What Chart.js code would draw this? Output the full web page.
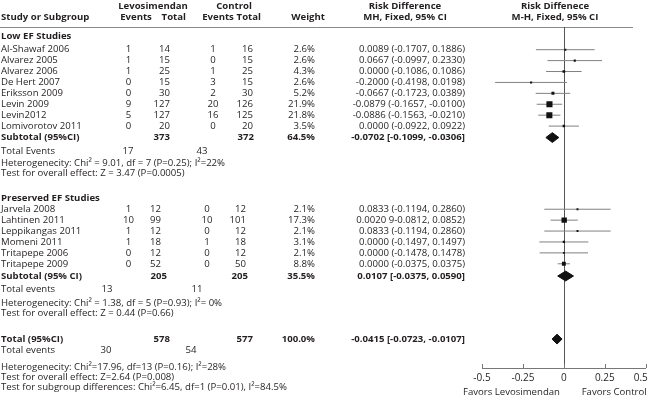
<!DOCTYPE html>
<html>
<head>
<meta charset="utf-8">
<script src="https://cdn.jsdelivr.net/npm/chart.js@4.4.1/dist/chart.umd.min.js"></script>
<style>
  html, body { margin: 0; padding: 0; background: #fff; }
  #wrap { width: 650px; height: 404px; position: relative; }
</style>
</head>
<body>
<div id="wrap"><canvas id="forest"></canvas></div>
<script>
// ---- data: Low EF studies
const lowStudies = ['Al-Shawaf 2006', 'Alvarez 2005', 'Alvarez 2006', 'De Hert 2007', 'Eriksson 2009', 'Levin 2009', 'Levin2012', 'Lomivorotov 2011'];
const lowLevEvents = [1, 1, 1, 0, 0, 9, 5, 0];
const lowLevTotal = [14, 15, 25, 15, 30, 127, 127, 20];
const lowCtrlEvents = [1, 0, 1, 3, 2, 20, 16, 0];
const lowCtrlTotal = [16, 15, 25, 15, 30, 126, 125, 20];
const lowWeight = [2.6, 2.6, 4.3, 2.6, 5.2, 21.9, 21.8, 3.5];
const lowRD = [0.0089, 0.0667, 0.0000, -0.2000, -0.0667, -0.0879, -0.0886, 0.0000];
const lowLo = [-0.1707, -0.0997, -0.1086, -0.4198, -0.1723, -0.1657, -0.1563, -0.0922];
const lowHi = [0.1886, 0.2330, 0.1086, 0.0198, 0.0389, -0.0100, -0.0210, 0.0922];
const lowCIText = ['0.0089 (-0.1707, 0.1886)', '0.0667 (-0.0997, 0.2330)', '0.0000 (-0.1086, 0.1086)', '-0.2000 (-0.4198, 0.0198)',
  '-0.0667 (-0.1723, 0.0389)', '-0.0879 (-0.1657, -0.0100)', '-0.0886 (-0.1563, -0.0210)', '0.0000 (-0.0922, 0.0922)'];

// ---- data: Preserved EF studies
const preStudies = ['Jarvela 2008', 'Lahtinen 2011', 'Leppikangas 2011', 'Momeni 2011', 'Tritapepe 2006', 'Tritapepe 2009'];
const preLevEvents = [1, 10, 1, 1, 0, 0];
const preLevTotal = [12, 99, 12, 18, 12, 52];
const preCtrlEvents = [0, 10, 0, 1, 0, 0];
const preCtrlTotal = [12, 101, 12, 18, 12, 50];
const preWeight = [2.1, 17.3, 2.1, 3.1, 2.1, 8.8];
const preRD = [0.0833, 0.0020, 0.0833, 0.0000, 0.0000, 0.0000];
const preLo = [-0.1194, -0.0812, -0.1194, -0.1497, -0.1478, -0.0375];
const preHi = [0.2860, 0.0852, 0.2860, 0.1497, 0.1478, 0.0375];
const preCIText = ['0.0833 (-0.1194, 0.2860)', '0.0020 9-0.0812, 0.0852)', '0.0833 (-0.1194, 0.2860)',
  '0.0000 (-0.1497, 0.1497)', '0.0000 (-0.1478, 0.1478)', '0.0000 (-0.0375, 0.0375)'];

// ---- pooled results: [low EF, preserved EF, total]
const pooledLabel = ['Subtotal (95%CI)', 'Subtotal (95% CI)', 'Total (95%CI)'];
const pooledLevTotal = [373, 205, 578];
const pooledCtrlTotal = [372, 205, 577];
const pooledWeight = ['64.5%', '35.5%', '100.0%'];
const pooledRD = [-0.0702, 0.0107, -0.0415];
const pooledLo = [-0.1099, -0.0375, -0.0723];
const pooledHi = [-0.0306, 0.0590, -0.0107];
const pooledLevEvents = [17, 13, 30];
const pooledCtrlEvents = [43, 11, 54];
const eventsLabel = ['Total Events', 'Total events', 'Total events'];
const heterogeneity = [
  'Heterogenecity: Chi\u00b2 = 9.01, df = 7 (P=0.25); I\u00b2=22%',
  'Heterogenecity: Chi\u00b2 = 1.38, df = 5 (P=0.93); I\u00b2= 0%',
  'Heterogenecity: Chi\u00b2=17.96, df=13 (P=0.16); I\u00b2=28%'
];
const overallTest = [
  'Test for overall effect: Z = 3.47 (P=0.0005)',
  'Test for overall effect: Z = 0.44 (P=0.66)',
  'Test for overall effect: Z=2.64 (P=0.008)'
];
const subgroupTest = 'Test for subgroup differences: Chi\u00b2=6.45, df=1 (P=0.01), I\u00b2=84.5%';

const xTicks = [-0.5, -0.25, 0, 0.25, 0.5];

// ---- layout (row positions in study-row units, 0 = header rule)
const lowStart = 2.08, preStart = 16.7;
const lowY = lowStudies.map((s, i) => lowStart + i);
const preY = preStudies.map((s, i) => preStart + i);
const pooledY = [lowStart + lowStudies.length + 0.05, preStart + preStudies.length + 0.12, 28.6];

const FONT = '"Open Sans", sans-serif';
const SIZE = 9.6;
const INK = '#231f20';

// text rows: {y, bold, cells: [[text, x, align]]}
const textRows = [];
const hdr1 = -1.93, hdr2 = -0.87;
textRows.push({ y: hdr1, bold: true, cells: [['Levosimendan', 153, 'center'], ['Control', 234, 'center'], ['Risk Difference', 405, 'center'], ['Risk Diffenece', 555, 'center']] });
textRows.push({ y: hdr2, bold: true, cells: [['Study or Subgroup', 1, 'left'], ['Events', 136, 'center'], ['Total', 186, 'right'], ['Events', 218, 'center'], ['Total', 261, 'right'], ['Weight', 325, 'right'], ['MH, Fixed, 95% CI', 405, 'center'], ['M-H, Fixed, 95% CI', 555, 'center']] });

function studyRows(names, le, lt, ce, ct, w, ci, ys, c) {
  names.forEach((n, i) => {
    textRows.push({ y: ys[i], bold: false, cells: [
      [n, 1, 'left'], [String(le[i]), c[0], 'center'], [String(lt[i]), c[1], 'right'],
      [String(ce[i]), c[2], 'center'], [String(ct[i]), c[3], 'right'],
      [w[i].toFixed(1) + '%', 315, 'right'], [ci[i], 465, 'right']] });
  });
}
function pooledRows(k, c, ev) {
  const y = pooledY[k];
  const ci = pooledRD[k].toFixed(4) + ' [' + pooledLo[k].toFixed(4) + ', ' + pooledHi[k].toFixed(4) + ']';
  textRows.push({ y: y, bold: true, cells: [[pooledLabel[k], 1, 'left'], [String(pooledLevTotal[k]), c[0], 'right'],
    [String(pooledCtrlTotal[k]), c[1], 'right'], [pooledWeight[k], 315, 'right'], [ci, 465, 'right']] });
  textRows.push({ y: ev[0], bold: false, cells: [[eventsLabel[k], 1, 'left'], [String(pooledLevEvents[k]), ev[1], 'center'], [String(pooledCtrlEvents[k]), ev[2], 'center']] });
  textRows.push({ y: ev[3], bold: false, cells: [[heterogeneity[k], 1, 'left']] });
  textRows.push({ y: ev[4], bold: false, cells: [[overallTest[k], 1, 'left']] });
}

textRows.push({ y: 0.87, bold: true, cells: [['Low EF Studies', 1, 'left']] });
studyRows(lowStudies, lowLevEvents, lowLevTotal, lowCtrlEvents, lowCtrlTotal, lowWeight, lowCIText, lowY, [128.5, 170, 213, 253]);
pooledRows(0, [170, 254], [11.35, 128, 202, 12.45, 13.37]);

textRows.push({ y: 15.66, bold: true, cells: [['Preserved EF Studies', 1, 'left']] });
studyRows(preStudies, preLevEvents, preLevTotal, preCtrlEvents, preCtrlTotal, preWeight, preCIText, preY, [128.5, 161, 207, 246]);
pooledRows(1, [167, 248], [24.06, 107, 197, 25.3, 26.27]);

pooledRows(2, [170, 253], [29.63, 106, 191, 31.16, 32.08]);
textRows.push({ y: 33.06, bold: false, cells: [[subgroupTest, 1, 'left']] });

// ---- datasets built from the arrays
const allRD = lowRD.concat(preRD);
const allLo = lowLo.concat(preLo);
const allHi = lowHi.concat(preHi);
const allW = lowWeight.concat(preWeight);
const allY = lowY.concat(preY);

const ciSegments = [];
allY.forEach((y, i) => {
  ciSegments.push({ x: allLo[i], y: y }, { x: allHi[i], y: y }, { x: null, y: null });
});

const diamondH = 0.45;
const diamonds = pooledRD.map((rd, k) => ({
  type: 'line',
  data: [{ x: pooledLo[k], y: pooledY[k] }, { x: rd, y: pooledY[k] - diamondH }, { x: pooledHi[k], y: pooledY[k] },
    { x: rd, y: pooledY[k] + diamondH }, { x: pooledLo[k], y: pooledY[k] }],
  borderColor: '#111', backgroundColor: '#111', borderWidth: 1, pointRadius: 0, fill: 'shape', order: 0
}));

const forestText = {
  id: 'forestText',
  beforeDatasetsDraw(chart) {
    const { ctx, chartArea, scales } = chart;
    const x0 = scales.x.getPixelForValue(0);
    ctx.save();
    ctx.strokeStyle = '#8a8a8a';
    ctx.lineWidth = 1;
    ctx.beginPath();
    ctx.moveTo(0, chartArea.top + 0.5);
    ctx.lineTo(633, chartArea.top + 0.5);
    ctx.stroke();
    ctx.strokeStyle = '#555';
    ctx.beginPath();
    ctx.moveTo(Math.round(x0) + 0.5, chartArea.top);
    ctx.lineTo(Math.round(x0) + 0.5, chartArea.bottom);
    ctx.stroke();
    // upward tick marks on the axis
    ctx.strokeStyle = '#777';
    xTicks.forEach(t => {
      const px = Math.round(scales.x.getPixelForValue(t)) + 0.5;
      ctx.beginPath();
      ctx.moveTo(px, chartArea.bottom);
      ctx.lineTo(px, chartArea.bottom - 4);
      ctx.stroke();
    });
    ctx.restore();
  },
  afterDraw(chart) {
    const { ctx, scales } = chart;
    ctx.save();
    ctx.fillStyle = INK;
    ctx.textBaseline = 'middle';
    textRows.forEach(r => {
      ctx.font = (r.bold ? '700 ' : '400 ') + SIZE + 'px ' + FONT;
      const py = scales.y.getPixelForValue(r.y);
      r.cells.forEach(c => {
        ctx.textAlign = c[2];
        ctx.fillText(c[0], c[1], py);
      });
    });
    ctx.font = '400 ' + SIZE + 'px ' + FONT;
    const fy = scales.y.getPixelForValue(33.46);
    ctx.textAlign = 'center';
    ctx.fillText('Favors Levosimendan', scales.x.getPixelForValue(-0.32), fy);
    ctx.textAlign = 'right';
    ctx.fillText('Favors Control', scales.x.getPixelForValue(0.5) + 1, fy);
    ctx.restore();
  }
};

new Chart(document.getElementById('forest'), {
  type: 'scatter',
  data: {
    datasets: [
      {
        data: allRD.map((rd, i) => ({ x: rd, y: allY[i] })),
        pointStyle: 'rect',
        pointRadius: allW.map(w => 4.3 * Math.sqrt(w / 21.9)),
        backgroundColor: '#111', borderWidth: 0, order: 0
      },
      {
        type: 'line', data: ciSegments, borderColor: '#808080', borderWidth: 1,
        pointRadius: 0, spanGaps: false, fill: false, order: 2
      }
    ].concat(diamonds)
  },
  options: {
    responsive: true,
    maintainAspectRatio: false,
    animation: false,
    events: [],
    layout: { padding: { left: 482, right: 3, top: 27, bottom: 16 } },
    plugins: { legend: { display: false }, tooltip: { enabled: false } },
    scales: {
      x: {
        type: 'linear', min: -0.5, max: 0.5,
        afterBuildTicks: s => { s.ticks = xTicks.map(v => ({ value: v })); },
        afterFit: s => { s.paddingLeft = 0; s.paddingRight = 0; },
        grid: { display: false, drawTicks: false },
        border: { display: true, color: '#777', width: 1 },
        ticks: {
          padding: 4, color: INK, font: { family: FONT, size: 10 }, maxRotation: 0,
          // last label nudged left so it stays inside the canvas
          callback: v => v === 0.5 ? String(v) + '\u2002\u2002' : String(v)
        }
      },
      y: { type: 'linear', display: false, reverse: true, min: 0, max: 31.25 }
    }
  },
  plugins: [forestText]
});
</script>
</body>
</html>
